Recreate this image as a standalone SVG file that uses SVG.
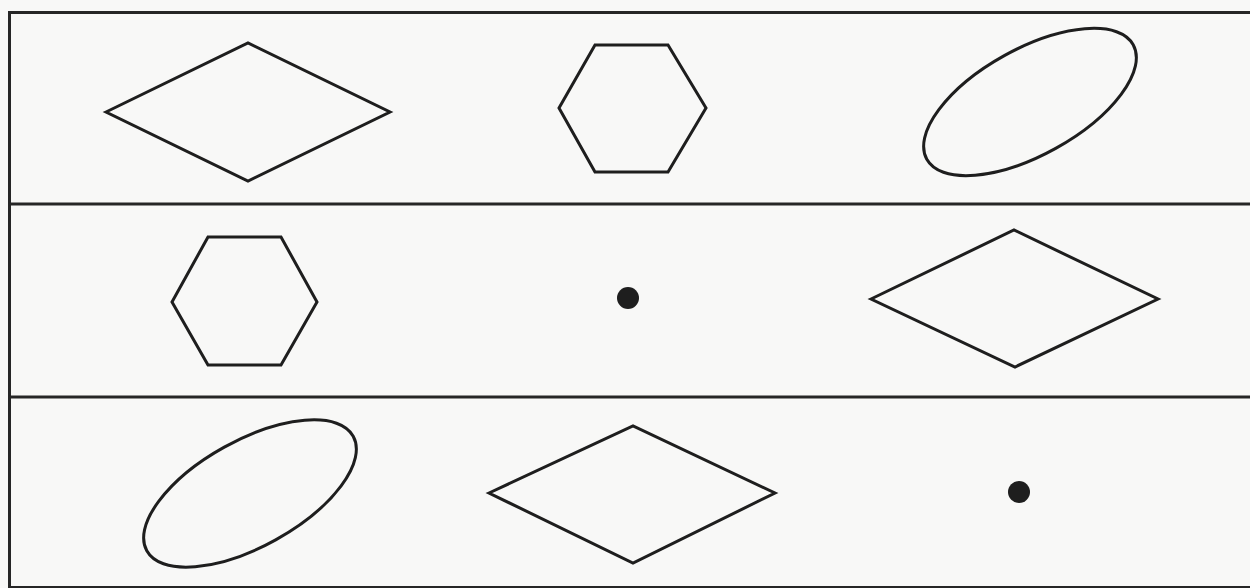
<svg xmlns="http://www.w3.org/2000/svg" width="1250" height="588" viewBox="0 0 1250 588">
  <style>
    .frame { fill: none; stroke: #262626; stroke-width: 3; }
    .shape { fill: none; stroke: #1e1e1e; stroke-width: 3; stroke-linejoin: miter; }
    .dot { fill: #1e1e1e; }
  </style>
  <rect x="0" y="0" width="1250" height="588" fill="#f8f8f7"/>
  <g id="frame">
    <path class="frame" d="M1252,12.5 H9.5 V590"/>
    <line class="frame" x1="9.5" y1="204" x2="1252" y2="204"/>
    <line class="frame" x1="9.5" y1="397" x2="1252" y2="397"/>
    <line class="frame" x1="9.5" y1="587.5" x2="1252" y2="587.5"/>
  </g>
  <g id="row1-diamond"><polygon class="shape" points="106,112 248,43 390,112 248,181"/></g>
  <g id="row1-hexagon"><polygon class="shape" points="595,45 668,45 706,108 668,172 595,172 559,108"/></g>
  <g id="row1-ellipse"><ellipse class="shape" cx="1030" cy="102" rx="118" ry="53" transform="rotate(-29 1030 102)"/></g>
  <g id="row2-hexagon"><polygon class="shape" points="208,237 281,237 317,302 281,365 208,365 172,302"/></g>
  <g id="row2-dot"><circle class="dot" cx="628" cy="298" r="11"/></g>
  <g id="row2-diamond"><polygon class="shape" points="871,299 1014,230 1158,299 1015,367"/></g>
  <g id="row3-ellipse"><ellipse class="shape" cx="250" cy="493.5" rx="118" ry="53" transform="rotate(-29 250 493.5)"/></g>
  <g id="row3-diamond"><polygon class="shape" points="489,493 633,426 775,493 633,563"/></g>
  <g id="row3-dot"><circle class="dot" cx="1019" cy="492" r="11"/></g>
  <g id="connectors"></g>
</svg>
